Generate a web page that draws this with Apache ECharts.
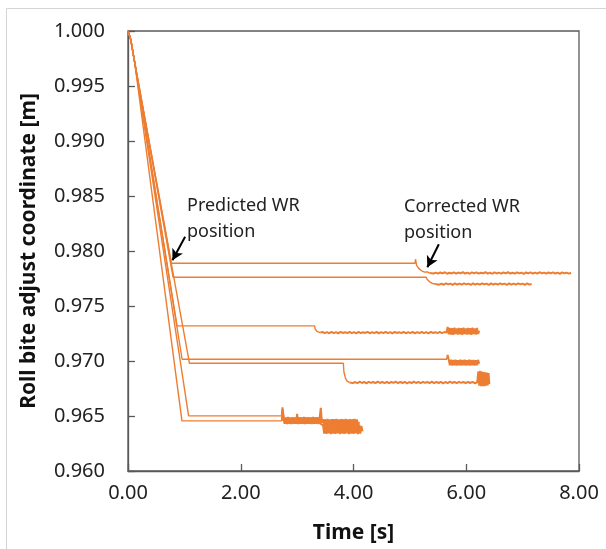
<!DOCTYPE html>
<html>
<head>
<meta charset="utf-8">
<script src="https://cdn.jsdelivr.net/npm/echarts@6/dist/echarts.min.js"></script>
<style>html,body{margin:0;padding:0;background:#fff;}#c{width:606px;height:549px;}</style>
</head>
<body>
<div id="c"></div>
<script>
// ---------- DATA ----------
const xTicks = [0, 2, 4, 6, 8];
const yTicks = [0.960, 0.965, 0.970, 0.975, 0.980, 0.985, 0.990, 0.995, 1.000];
const startPath = [[0, 1.0], [0.05, 0.9992], [0.12, 0.9971]];

// Series 1 (predicted 0.9789 -> corrected 0.9780)
const s1Path = [[0.77, 0.97888], [5.09, 0.97888], [5.10, 0.97925], [5.12, 0.97870], [5.16, 0.97840], [5.21, 0.97820], [5.26, 0.97808], [5.31, 0.97810], [5.33, 0.97822], [5.35, 0.97800]];
const s1TailStart = 5.38, s1TailStep = 0.04;
const s1Tail = [0.97806,0.97795,0.97803,0.97794,0.97805,0.97797,0.97807,0.97793,0.97802,0.97796,
0.97806,0.97794,0.97804,0.97797,0.97808,0.97795,0.97803,0.97793,0.97806,0.97796,
0.97805,0.97794,0.97802,0.97797,0.97807,0.97795,0.97804,0.97793,0.97806,0.97796,
0.97803,0.97794,0.97805,0.97797,0.97807,0.97795,0.97802,0.97794,0.97806,0.97796,
0.97804,0.97793,0.97805,0.97797,0.97806,0.97795,0.97803,0.97794,0.97807,0.97796,
0.97804,0.97794,0.97805,0.97797,0.97806,0.97795,0.97803,0.97793,0.97805,0.97796,
0.97804,0.97795,0.97800];

// Series 2 (0.9776 -> 0.9770)
const s2Path = [[0.80, 0.97761], [5.29, 0.97761], [5.31, 0.97740], [5.35, 0.97720], [5.40, 0.97705], [5.45, 0.97700]];
const s2TailStart = 5.48, s2TailStep = 0.04;
const s2Tail = [0.97705,0.97694,0.97703,0.97693,0.97706,0.97696,0.97704,0.97692,0.97705,0.97695,
0.97703,0.97694,0.97706,0.97696,0.97704,0.97693,0.97705,0.97695,0.97703,0.97694,
0.97706,0.97696,0.97704,0.97692,0.97705,0.97695,0.97703,0.97694,0.97706,0.97696,
0.97704,0.97693,0.97705,0.97695,0.97703,0.97694,0.97705,0.97696,0.97704,0.97693,
0.97705,0.97695,0.97700];

// Series 3 (0.9732 -> 0.9726)
const s3Path = [[0.87, 0.97319], [3.31, 0.97319], [3.32, 0.97290], [3.35, 0.97270], [3.38, 0.97262], [3.41, 0.97258]];
const s3TailStart = 3.45, s3TailStep = 0.04;
const s3Tail = [0.97264,0.97253,0.97262,0.97252,0.97265,0.97254,0.97263,0.97251,0.97264,0.97255,
0.97262,0.97253,0.97265,0.97254,0.97263,0.97252,0.97264,0.97253,0.97262,0.97255,
0.97265,0.97252,0.97263,0.97254,0.97264,0.97251,0.97262,0.97253,0.97265,0.97254,
0.97263,0.97252,0.97264,0.97255,0.97262,0.97253,0.97265,0.97252,0.97263,0.97254,
0.97264,0.97251,0.97262,0.97253,0.97265,0.97254,0.97263,0.97252,0.97264,0.97255,
0.97262,0.97253,0.97264,0.97254,0.97263,0.97258];
const s3NoiseStart = 5.67, s3NoiseStep = 0.02;
const s3Noise = [0.97310,0.97242,0.97300,0.97240,0.97298,0.97238,0.97302,0.97244,0.97296,0.97240,0.97300,0.97242,0.97298,0.97238,0.97302,0.97244,0.97296,0.97240,0.97300,0.97242,0.97298,0.97238,0.97302,0.97244,0.97296,0.97240,0.97300,0.97246,0.97275];

// Series 4 (0.9702 -> 0.9699)
const s4Path = [[0.96, 0.97016], [5.66, 0.97016]];
const s4NoiseStart = 5.67, s4NoiseStep = 0.02;
const s4Noise = [0.97055,0.97010,0.96960,0.97012,0.96958,0.97010,0.96962,0.97012,0.96958,0.97008,0.96960,0.97012,0.96958,0.97010,0.96962,0.97012,0.96958,0.97008,0.96960,0.97012,0.96958,0.97010,0.96962,0.97010,0.96958,0.97008,0.96960,0.97010,0.96975];

// Series 5 (0.9698 -> 0.9681)
const s5Path = [[1.09, 0.96980], [3.82, 0.96980], [3.83, 0.96900], [3.86, 0.96840], [3.89, 0.96815], [3.91, 0.96825], [3.93, 0.96805]];
const s5TailStart = 3.95, s5TailStep = 0.04;
const s5Tail = [0.96811,0.96799,0.96809,0.96798,0.96812,0.96800,0.96810,0.96797,0.96811,0.96801,
0.96809,0.96799,0.96812,0.96800,0.96810,0.96798,0.96811,0.96799,0.96809,0.96801,
0.96812,0.96798,0.96810,0.96800,0.96811,0.96797,0.96809,0.96799,0.96812,0.96800,
0.96810,0.96798,0.96811,0.96801,0.96809,0.96799,0.96812,0.96798,0.96810,0.96800,
0.96811,0.96797,0.96809,0.96799,0.96812,0.96800,0.96810,0.96798,0.96811,0.96801,
0.96809,0.96799,0.96811,0.96800,0.96810,0.96798,0.96805];
const s5NoiseStart = 6.20, s5NoiseStep = 0.015;
const s5Noise = [0.96830,0.96905,0.96775,0.96910,0.96770,0.96905,0.96772,0.96900,0.96770,0.96898,0.96775,0.96895,0.96778,0.96890,0.96790];

// Series 6 (0.9650 -> 0.9645)
const s6Path = [[1.075, 0.96501], [2.73, 0.96501]];
const s6NoiseStart = 2.74, s6NoiseStep = 0.02;
const s6Noise = [0.96578,
0.96490,0.96432,0.96488,0.96430,0.96492,0.96434,0.96486,0.96430,0.96490,0.96432,
0.96488,0.96434,0.96520,0.96430,0.96490,0.96432,0.96488,0.96430,0.96492,0.96434,
0.96486,0.96430,0.96490,0.96432,0.96488,0.96434,0.96492,0.96430,0.96488,0.96432,
0.96490,0.96434,0.96486,0.96575,0.96440,
0.96472,0.96414,0.96470,0.96412,0.96474,0.96416,0.96468,0.96412,0.96472,0.96414,
0.96470,0.96416,0.96474,0.96412,0.96468,0.96414,0.96472,0.96416,0.96470,0.96412,
0.96474,0.96414,0.96468,0.96416,0.96472,0.96412,0.96470,0.96414,0.96474,0.96416,
0.96468,0.96414,0.96445];

// Series 7 (0.9646 -> 0.9638)
const s7Path = [[0.957, 0.96456], [2.73, 0.96456]];
const s7NoiseStart = 2.74, s7NoiseStep = 0.02;
const s7Noise = [0.96560,
0.96485,0.96428,0.96483,0.96426,0.96487,0.96430,0.96481,0.96426,0.96485,0.96428,
0.96483,0.96430,0.96487,0.96426,0.96481,0.96428,0.96485,0.96430,0.96483,0.96426,
0.96487,0.96428,0.96481,0.96430,0.96485,0.96426,0.96483,0.96428,0.96487,0.96430,
0.96481,0.96426,0.96485,0.96428,0.96420,
0.96415,0.96340,0.96420,0.96338,0.96422,0.96342,0.96418,0.96336,0.96420,0.96340,
0.96424,0.96338,0.96418,0.96342,0.96422,0.96336,0.96420,0.96340,0.96418,0.96338,
0.96424,0.96342,0.96420,0.96336,0.96418,0.96340,0.96422,0.96338,0.96420,0.96342,
0.96418,0.96336,0.96422,0.96340,0.96410,0.96360];

// Annotation arrows (data coords: from -> to)
const arrowPredicted = [[1.013, 0.98130], [0.788, 0.97916]];
const arrowCorrected = [[5.514, 0.98061], [5.310, 0.97852]];

// ---------- BUILD ----------
function seg(start, step, vals) { return vals.map((v, i) => [+(start + i * step).toFixed(3), v]); }
// smooth (predicted) parts
const mainData = [
  startPath.concat(s1Path), startPath.concat(s2Path), startPath.concat(s3Path),
  startPath.concat(s4Path), startPath.concat(s5Path), startPath.concat(s6Path), startPath.concat(s7Path)
];
// measured (noisy) parts, joined to the end of each smooth part
const paths = [s1Path, s2Path, s3Path, s4Path, s5Path, s6Path, s7Path];
const noisyParts = [
  seg(s1TailStart, s1TailStep, s1Tail),
  seg(s2TailStart, s2TailStep, s2Tail),
  seg(s3TailStart, s3TailStep, s3Tail).concat(seg(s3NoiseStart, s3NoiseStep, s3Noise)),
  seg(s4NoiseStart, s4NoiseStep, s4Noise),
  seg(s5TailStart, s5TailStep, s5Tail).concat(seg(s5NoiseStart, s5NoiseStep, s5Noise)),
  seg(s6NoiseStart, s6NoiseStep, s6Noise),
  seg(s7NoiseStart, s7NoiseStep, s7Noise)
];
const noisyData = noisyParts.map((p, i) => [paths[i][paths[i].length - 1]].concat(p));

const FONT = 'Noto Sans';
const ORANGE = '#ED7D31';
const series = [];
mainData.forEach(d => series.push({
  type: 'line', data: d, showSymbol: false, symbol: 'none',
  lineStyle: { color: ORANGE, width: 1.4 }, itemStyle: { color: ORANGE }, z: 2, silent: true
}));
noisyData.forEach(d => series.push({
  type: 'line', data: d, showSymbol: false, symbol: 'none',
  lineStyle: { color: ORANGE, width: 2 }, itemStyle: { color: ORANGE }, z: 2, silent: true
}));
series[0].markLine = {
  silent: true, symbol: ['none', 'arrow'], symbolSize: [9, 11],
  label: { show: false },
  lineStyle: { color: '#000', width: 2, type: 'solid' },
  animation: false,
  data: [
    [{ coord: arrowPredicted[0] }, { coord: arrowPredicted[1] }],
    [{ coord: arrowCorrected[0] }, { coord: arrowCorrected[1] }]
  ]
};

const chart = echarts.init(document.getElementById('c'), null, { renderer: 'canvas' });
chart.setOption({
  animation: false,
  backgroundColor: '#fff',
  grid: { left: 128, right: 27, top: 31, bottom: 77, show: true, borderColor: '#595959', borderWidth: 1.3, backgroundColor: 'transparent' },
  xAxis: {
    type: 'value', min: xTicks[0], max: xTicks[xTicks.length - 1], interval: 2,
    name: 'Time [s]', nameLocation: 'middle', nameGap: 52,
    nameTextStyle: { fontFamily: FONT, fontWeight: 'bold', fontSize: 21, color: '#111' },
    axisLine: { lineStyle: { color: '#595959', width: 1.3 } },
    axisTick: { inside: true, length: 7, lineStyle: { color: '#595959', width: 1.3 } },
    axisLabel: { fontFamily: FONT, fontSize: 20, color: '#222', margin: 12, formatter: v => v.toFixed(2) },
    splitLine: { show: false }
  },
  yAxis: {
    type: 'value', min: yTicks[0], max: yTicks[yTicks.length - 1], interval: 0.005,
    name: 'Roll bite adjust coordinate [m]', nameLocation: 'middle', nameGap: 88,
    nameTextStyle: { fontFamily: FONT, fontWeight: 'bold', fontSize: 21, color: '#111' },
    axisLine: { lineStyle: { color: '#595959', width: 1.3 } },
    axisTick: { inside: true, length: 7, lineStyle: { color: '#595959', width: 1.3 } },
    axisLabel: { fontFamily: FONT, fontSize: 20, color: '#222', margin: 23, formatter: v => v.toFixed(3) },
    splitLine: { show: false }
  },
  graphic: [
    { type: 'rect', left: 4, top: 6, shape: { width: 700, height: 700 }, style: { fill: 'none', stroke: '#d4d4d4', lineWidth: 1 }, z: -10, silent: true },
    { type: 'text', left: 187, top: 193, style: { text: 'Predicted WR\nposition', font: '18px "Noto Sans"', fill: '#222', lineHeight: 26 }, silent: true },
    { type: 'text', left: 404, top: 194, style: { text: 'Corrected WR\nposition', font: '18px "Noto Sans"', fill: '#222', lineHeight: 26 }, silent: true }
  ],
  series: series
});
</script>
</body>
</html>
